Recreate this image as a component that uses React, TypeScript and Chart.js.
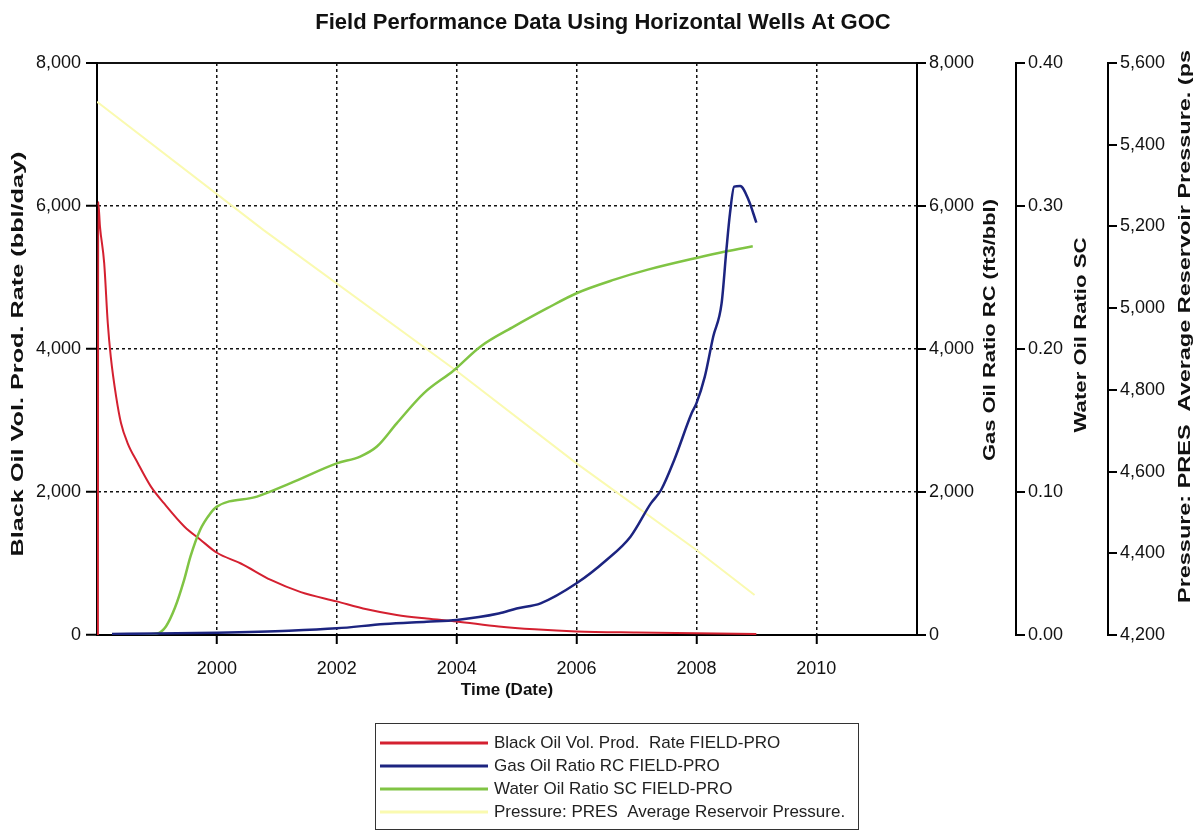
import React, { useEffect, useRef } from 'react';
import { Chart, registerables } from 'chart.js';

Chart.register(...registerables);

// ---------- text ----------
const TITLE = 'Field Performance Data Using Horizontal Wells At GOC';
const X_TITLE = 'Time (Date)';
const SERIES_LABELS = [
  'Black Oil Vol. Prod.  Rate FIELD-PRO',
  'Gas Oil Ratio RC FIELD-PRO',
  'Water Oil Ratio SC FIELD-PRO',
  'Pressure: PRES  Average Reservoir Pressure.',
];
const Y_TITLES = [
  'Black Oil Vol. Prod. Rate (bbl/day)',
  'Gas Oil Ratio RC (ft3/bbl)',
  'Water Oil Ratio SC',
  'Pressure: PRES  Average Reservoir Pressure. (ps',
];

// ---------- axes ----------
const X_MIN = 1998.0;
const X_MAX = 2011.68;
const X_TICKS = [2000, 2002, 2004, 2006, 2008, 2010];
const OIL_RANGE = [0, 8000, 2000];
const GOR_RANGE = [0, 8000, 2000];
const WOR_RANGE = [0, 0.4, 0.1];
const PRES_RANGE = [4200, 5600, 200];

// ---------- data (decimal years) ----------
const OIL_T = [1998.015, 1998.02, 1998.05, 1998.12, 1998.18, 1998.23, 1998.32, 1998.4, 1998.51, 1998.68, 1998.9, 1999.12, 1999.46, 1999.73, 2000.0, 2000.4, 2000.9, 2001.4, 2002.0, 2002.5, 2003.0, 2003.5, 2004.0, 2004.7, 2005.3, 2006.0, 2007.0, 2008.0, 2009.0];
const OIL_RATE = [0, 6060, 5710, 5200, 4360, 3890, 3330, 2965, 2685, 2405, 2075, 1840, 1515, 1330, 1150, 1000, 770, 600, 470, 360, 280, 230, 190, 120, 80, 50, 35, 25, 15];

const GOR_T = [1998.25, 1999.0, 2000.0, 2001.2, 2002.0, 2002.8, 2003.5, 2004.0, 2004.7, 2005.0, 2005.4, 2006.0, 2006.5, 2006.9, 2007.24, 2007.41, 2007.63, 2007.92, 2008.0, 2008.14, 2008.28, 2008.42, 2008.5, 2008.56, 2008.63, 2008.73, 2008.87, 2009.0];
const GOR_VAL = [15, 20, 33, 60, 93, 154, 186, 210, 300, 370, 443, 723, 1049, 1375, 1841, 2028, 2448, 3100, 3240, 3613, 4172, 4638, 5385, 5897, 6270, 6280, 6084, 5767];

const WOR_T = [1998.6, 1999.0, 1999.15, 1999.3, 1999.45, 1999.56, 1999.72, 1999.89, 2000.0, 2000.67, 2001.22, 2002.0, 2002.39, 2002.67, 2003.0, 2003.45, 2003.95, 2004.4, 2004.96, 2005.52, 2006.0, 2006.63, 2007.19, 2008.0, 2008.5, 2008.94];
const WOR_VAL = [0, 0.001, 0.006, 0.019, 0.038, 0.055, 0.0735, 0.085, 0.0898, 0.0968, 0.106, 0.12, 0.1248, 0.1318, 0.148, 0.169, 0.185, 0.2018, 0.2158, 0.2287, 0.239, 0.2485, 0.2555, 0.2637, 0.2683, 0.2718];

const PRES_T = [1998.0, 2000.78, 2004.0, 2006.0, 2008.0, 2008.97];
const PRES_VAL = [5505, 5191, 4846, 4620, 4408, 4298];

// ---------- style ----------
const COLORS = ['#d42030', '#1c2480', '#80c444', '#fafab0'];
const FONT = '"Liberation Sans", Arial, sans-serif';
const INK = '#111111';
const DOT = [3, 3];

const pts = (t: number[], v: number[]) => t.map((x, i) => ({ x, y: v[i] }));
const fmtThousands = (v: number) => Math.round(v).toLocaleString('en-US');

const decorPlugin = {
  id: 'decor',
  afterDraw(chart: any) {
    const { ctx, chartArea } = chart;
    ctx.save();
    ctx.fillStyle = INK;
    // main title
    ctx.font = `bold 22px ${FONT}`;
    ctx.textAlign = 'center';
    ctx.textBaseline = 'middle';
    ctx.fillText(TITLE, 603, 23);
    // x title
    ctx.font = `bold 17px ${FONT}`;
    ctx.fillText(X_TITLE, (chartArea.left + chartArea.right) / 2, 690);

    // vertical titles (bottom-to-top)
    const specs = [
      { x: 18, y: 354, len: 405, align: 'center' },
      { x: 990, y: 330, len: 262, align: 'center' },
      { x: 1081, y: 335, len: 195, align: 'center' },
      { x: 1185, y: 603, len: 553, align: 'left' },
    ];
    specs.forEach((s, i) => {
      ctx.save();
      ctx.translate(s.x, s.y);
      ctx.rotate(-Math.PI / 2);
      ctx.font = `bold 17px ${FONT}`;
      const w = ctx.measureText(Y_TITLES[i]).width;
      ctx.scale(s.len / w, 1);
      ctx.textAlign = s.align;
      ctx.textBaseline = 'middle';
      ctx.fillText(Y_TITLES[i], 0, 0);
      ctx.restore();
    });

    // legend box
    ctx.strokeStyle = '#333';
    ctx.lineWidth = 1;
    ctx.strokeRect(375.5, 723.5, 483, 106);
    ctx.font = `17px ${FONT}`;
    ctx.textAlign = 'left';
    ctx.textBaseline = 'middle';
    chart.data.datasets.forEach((ds: any, i: number) => {
      const y = 743 + i * 23;
      ctx.strokeStyle = ds.borderColor;
      ctx.lineWidth = 3;
      ctx.beginPath();
      ctx.moveTo(380, y);
      ctx.lineTo(488, y);
      ctx.stroke();
      ctx.fillStyle = '#222';
      ctx.fillText(ds.label, 494, y);
    });
    ctx.restore();
  },
};

export default function App() {
  const ref = useRef<HTMLCanvasElement>(null);
  useEffect(() => {
    document.body.style.margin = '0';
    const canvas = ref.current!;
    const tickFont = { family: FONT, size: 18 };
    const rightAxis = (range: number[], weight: number, fmt: (v: number) => string) => ({
      type: 'linear' as const,
      position: 'right' as const,
      weight,
      min: range[0],
      max: range[1],
      afterFit: (s: any) => {
        s.width = weight === 1 ? 99 : weight === 2 ? 92 : 90;
      },
      ticks: { stepSize: range[2], callback: (v: any) => fmt(Number(v)), font: tickFont, color: INK, padding: 3 },
      grid: { drawOnChartArea: false, color: '#000', tickLength: 9, lineWidth: 2 },
      border: { display: true, color: '#000', width: 2 },
    });
    const line = (i: number, t: number[], v: number[], axis: string, width: number, order: number, smooth: boolean) => ({
      label: SERIES_LABELS[i],
      data: pts(t, v),
      yAxisID: axis,
      borderColor: COLORS[i],
      backgroundColor: COLORS[i],
      borderWidth: width,
      pointRadius: 0,
      cubicInterpolationMode: smooth ? 'monotone' : 'default',
      tension: 0,
      order,
    });

    const chart = new Chart(canvas, {
      type: 'line',
      data: {
        datasets: [
          line(0, OIL_T, OIL_RATE, 'yOil', 2, 2, true),
          line(1, GOR_T, GOR_VAL, 'yGor', 2.5, 0, true),
          line(2, WOR_T, WOR_VAL, 'yWor', 2.5, 1, true),
          line(3, PRES_T, PRES_VAL, 'yPres', 2, 3, false),
        ],
      },
      options: {
        responsive: false,
        animation: false,
        layout: { padding: { top: 63, bottom: 137, left: 0, right: 0 } },
        plugins: { legend: { display: false }, title: { display: false }, tooltip: { enabled: false } },
        scales: {
          x: {
            type: 'linear',
            min: X_MIN,
            max: X_MAX,
            afterBuildTicks: (s: any) => {
              s.ticks = X_TICKS.map((v) => ({ value: v }));
            },
            afterFit: (s: any) => {
              s.height = 60;
            },
            ticks: { callback: (v: any) => String(v), font: tickFont, color: INK, padding: 14, maxRotation: 0, autoSkip: false },
            grid: { color: '#111', lineWidth: 1.5, tickBorderDash: [], tickLength: 9, tickWidth: 2, tickColor: '#000' },
            border: { display: true, color: '#000', width: 2, dash: DOT },
          },
          yOil: {
            type: 'linear',
            position: 'left',
            min: OIL_RANGE[0],
            max: OIL_RANGE[1],
            afterFit: (s: any) => {
              s.width = 97;
            },
            ticks: { stepSize: OIL_RANGE[2], callback: (v: any) => fmtThousands(Number(v)), font: tickFont, color: INK, padding: 5 },
            grid: {
              color: '#111',
              lineWidth: (c: any) => (c.tick && c.tick.value === OIL_RANGE[1] ? 2 : 1.5),
              tickBorderDash: [],
              tickLength: 11,
              tickWidth: 2,
              tickColor: '#000',
            },
            border: {
              display: true,
              color: '#000',
              width: 2,
              dash: (c: any) => (c.tick && c.tick.value === OIL_RANGE[1] ? [] : DOT),
            },
          },
          yGor: rightAxis(GOR_RANGE, 1, fmtThousands),
          yWor: rightAxis(WOR_RANGE, 2, (v) => v.toFixed(2)),
          yPres: rightAxis(PRES_RANGE, 3, fmtThousands),
        },
      },
      plugins: [decorPlugin],
    } as any);
    return () => chart.destroy();
  }, []);

  return <canvas ref={ref} width={1198} height={832} style={{ display: 'block' }} />;
}
